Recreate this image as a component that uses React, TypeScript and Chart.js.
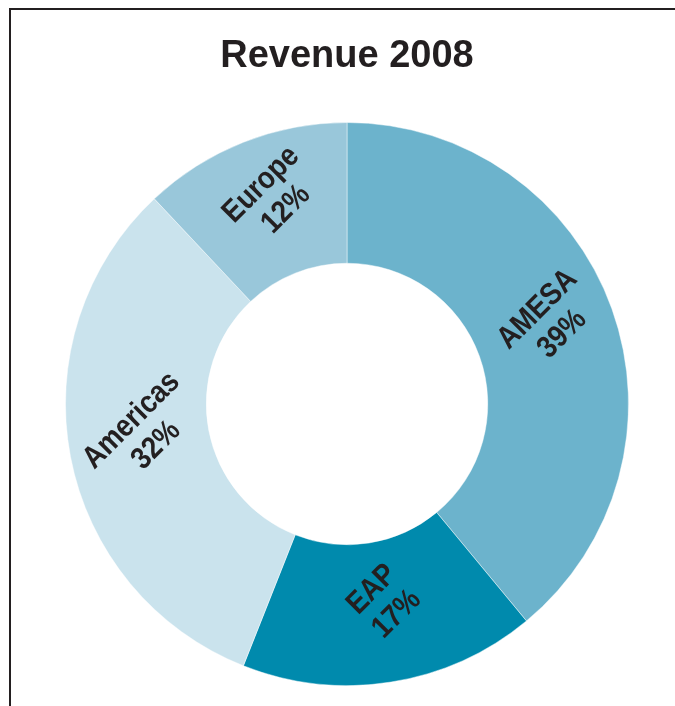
import React, { useEffect, useRef } from "react";
import { Chart, registerables } from "chart.js";

Chart.register(...registerables);

const categories = ["AMESA", "EAP", "Americas", "Europe"];
const shares = [39, 17, 32, 12];
const percentLabels = ["39%", "17%", "32%", "12%"];
const colors = ["#6cb3cc", "#008aad", "#cae3ed", "#99c7da"];
const titleText = "Revenue 2008";

const FONT = "'Liberation Sans', Arial, Helvetica, sans-serif";

const framePlugin = {
  id: "frame",
  beforeDraw(chart: any) {
    const ctx = chart.ctx;
    ctx.save();
    ctx.strokeStyle = "#231f20";
    ctx.lineWidth = 2;
    ctx.beginPath();
    ctx.moveTo(10, chart.height + 2);
    ctx.lineTo(10, 9);
    ctx.lineTo(chart.width + 2, 9);
    ctx.stroke();
    ctx.restore();
  },
};

const sliceLabelPlugin = {
  id: "sliceLabels",
  afterDatasetsDraw(chart: any) {
    const ctx = chart.ctx;
    const meta = chart.getDatasetMeta(0);
    ctx.save();
    ctx.fillStyle = "#231f20";
    ctx.font = `bold 31px ${FONT}`;
    ctx.textAlign = "center";
    ctx.textBaseline = "middle";
    meta.data.forEach((arc: any, i: number) => {
      const p = arc.tooltipPosition();
      ctx.save();
      ctx.translate(p.x + 4, p.y - 11);
      ctx.rotate(-Math.PI / 4);
      ctx.scale(0.88, 1);
      ctx.fillText(categories[i], 0, -17);
      ctx.fillText(percentLabels[i], 0, 18);
      ctx.restore();
    });
    ctx.restore();
  },
};

export default function App() {
  const ref = useRef<HTMLCanvasElement>(null);
  useEffect(() => {
    if (!ref.current) return;
    const chart = new Chart(ref.current, {
      type: "doughnut",
      data: {
        labels: categories,
        datasets: [
          {
            data: shares,
            backgroundColor: colors,
            borderColor: "rgba(255,255,255,0.45)",
            borderWidth: 1,
          },
        ],
      },
      options: {
        animation: false,
        responsive: false,
        cutout: "50%",
        layout: { padding: { top: 0, left: 65, right: 46, bottom: 20 } },
        plugins: {
          legend: { display: false },
          tooltip: { enabled: false },
          title: {
            display: true,
            text: titleText,
            color: "#231f20",
            font: { family: FONT, size: 38, weight: "bold" },
            padding: { top: 34, bottom: 42.4 },
          },
        },
      },
      plugins: [framePlugin, sliceLabelPlugin],
    });
    return () => chart.destroy();
  }, []);
  return (
    <div style={{ position: "fixed", left: 0, top: 0, width: 675, height: 706, background: "#fff" }}>
      <canvas ref={ref} width={675} height={706} style={{ width: 675, height: 706 }} />
    </div>
  );
}
